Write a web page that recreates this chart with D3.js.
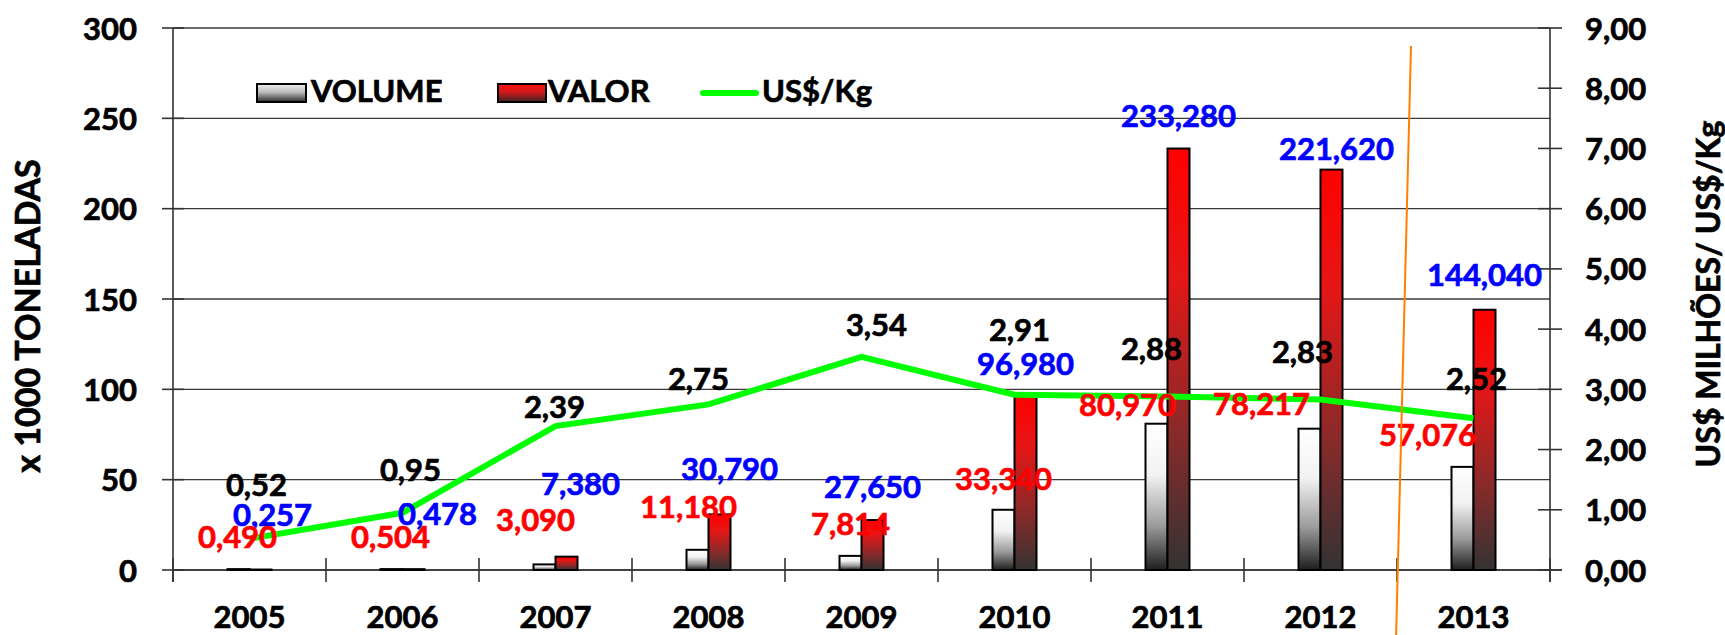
<!DOCTYPE html>
<html>
<head>
<meta charset="utf-8">
<script src="https://cdn.jsdelivr.net/npm/d3@7"></script>
<style>
  html, body { margin: 0; padding: 0; background: #fff; }
  svg { display: block; }
  text { font-family: Lato, "Open Sans", sans-serif; font-weight: bold; stroke-width: 0.7px; }
</style>
</head>
<body>
<svg id="chart" width="1725" height="635"></svg>
<script>
// ---------------- DATA ----------------
const years = ['2005', '2006', '2007', '2008', '2009', '2010', '2011', '2012', '2013'];
const volume = [0.490, 0.504, 3.090, 11.180, 7.814, 33.340, 80.970, 78.217, 57.076];   // x 1000 toneladas
const valor = [0.257, 0.478, 7.380, 30.790, 27.650, 96.980, 233.280, 221.620, 144.040]; // US$ milhões
const price = [0.52, 0.95, 2.39, 2.75, 3.54, 2.91, 2.88, 2.83, 2.52];                    // US$/Kg
const leftTicks = [0, 50, 100, 150, 200, 250, 300];
const rightTicks = [0, 1, 2, 3, 4, 5, 6, 7, 8, 9];
const seriesNames = ['VOLUME', 'VALOR', 'US$/Kg'];
const leftTitle = 'x 1000 TONELADAS';
const rightTitle = 'US$ MILHÕES/ US$/Kg';

// label offsets (layout only, px relative to their mark)
const priceLabelOffsets = [[7,-43],[8,-32],[-1,-8],[-10,-14],[15,-21],[5,-54],[-16,-37],[-18,-37],[3,-28]];
const valorLabelOffsets = [[23,-44],[35,-44],[25,-62],[21,-34],[11,-22],[11,-20],[11,-22],[16,-10],[11,-24]];
const volumeLabelOffsets = [[-12,-21],[-12,-21],[-20,-33],[-20,-32],[-11,-21],[-11,-20],[-40,-8],[-59,-14],[-46,-21]];

// ---------------- SETUP ----------------
const svg = d3.select('#chart');
const plot = { left: 173, right: 1550, top: 28, bottom: 570 };
const FS = 31;

const locale = d3.formatLocale({ decimal: ',', thousands: '.', grouping: [3], currency: ['', ''] });
const f3 = locale.format('.3f');
const f2 = locale.format('.2f');
const f0 = locale.format('d');

const x = d3.scaleBand().domain(years).range([plot.left, plot.right]).paddingInner(0).paddingOuter(0);
const bw = x.bandwidth();
const xs = d3.scaleBand().domain(['vol', 'val']).range([bw / 2 - 22, bw / 2 + 22]).padding(0);
const yL = d3.scaleLinear().domain([0, 300]).range([plot.bottom, plot.top]);
const yR = d3.scaleLinear().domain([0, 9]).range([plot.bottom, plot.top]);
const cx = d => x(d) + bw / 2;

// gradients
const defs = svg.append('defs');
function grad(id, stops) {
  const g = defs.append('linearGradient').attr('id', id)
    .attr('x1', 0).attr('y1', 0).attr('x2', 0).attr('y2', 1);
  stops.forEach(s => g.append('stop').attr('offset', s[0]).attr('stop-color', s[1]));
}
grad('gVol', [[0, '#ffffff'], [0.35, '#f2f2f2'], [0.7, '#9a9a9a'], [1, '#1e1e1e']]);
grad('gVal', [[0, '#ff0000'], [0.3, '#e51616'], [0.68, '#872a2a'], [1, '#333333']]);
grad('gVolLeg', [[0, '#eeeeee'], [0.45, '#bdbdbd'], [1, '#2a2a2a']]);
grad('gValLeg', [[0, '#ff1010'], [0.45, '#d01818'], [1, '#3a2424']]);

// gridlines
svg.append('g').selectAll('line').data(leftTicks).join('line')
  .attr('x1', plot.left).attr('x2', plot.right)
  .attr('y1', d => yL(d)).attr('y2', d => yL(d))
  .attr('stroke', '#3a3a3a').attr('stroke-width', 1.4);

// left axis
const gl = svg.append('g');
gl.append('line').attr('x1', plot.left).attr('x2', plot.left)
  .attr('y1', plot.top).attr('y2', plot.bottom + 12).attr('stroke', '#333').attr('stroke-width', 1.6);
gl.selectAll('line.t').data(leftTicks).join('line').attr('class', 't')
  .attr('x1', plot.left - 11).attr('x2', plot.left + 11)
  .attr('y1', d => yL(d)).attr('y2', d => yL(d)).attr('stroke', '#333').attr('stroke-width', 1.6);
gl.selectAll('text').data(leftTicks).join('text')
  .attr('x', plot.left - 36).attr('y', d => yL(d) + 11.5)
  .attr('text-anchor', 'end').attr('font-size', FS).attr('fill', '#000').attr('stroke', '#000').text(d => f0(d));

// right axis
const gr = svg.append('g');
gr.append('line').attr('x1', plot.right).attr('x2', plot.right)
  .attr('y1', plot.top).attr('y2', plot.bottom + 12).attr('stroke', '#333').attr('stroke-width', 1.6);
gr.selectAll('line.t').data(rightTicks).join('line').attr('class', 't')
  .attr('x1', plot.right - 12).attr('x2', plot.right + 12)
  .attr('y1', d => yR(d)).attr('y2', d => yR(d)).attr('stroke', '#333').attr('stroke-width', 1.6);
gr.selectAll('text').data(rightTicks).join('text')
  .attr('x', plot.right + 35).attr('y', d => yR(d) + 11.5)
  .attr('text-anchor', 'start').attr('font-size', FS).attr('fill', '#000').attr('stroke', '#000').text(d => f2(d));

// x axis line + category boundary ticks
svg.append('line').attr('x1', plot.left).attr('x2', plot.right + 12)
  .attr('y1', plot.bottom).attr('y2', plot.bottom).attr('stroke', '#333').attr('stroke-width', 1.6);
const bounds = years.map(d => x(d)).concat([plot.right]);
svg.append('g').selectAll('line').data(bounds).join('line')
  .attr('x1', d => d).attr('x2', d => d)
  .attr('y1', plot.bottom - 12).attr('y2', plot.bottom + 12)
  .attr('stroke', '#333').attr('stroke-width', 1.6);
svg.append('g').selectAll('text').data(years).join('text')
  .attr('x', d => cx(d)).attr('y', 628).attr('text-anchor', 'middle')
  .attr('font-size', FS).attr('fill', '#000').attr('stroke', '#000').text(d => d);

// axis titles
svg.append('text').attr('transform', 'translate(40,316) rotate(-90)')
  .attr('text-anchor', 'middle').attr('font-size', 34).attr('fill', '#000').attr('stroke', '#000').text(leftTitle);
svg.append('text').attr('transform', 'translate(1720,294) rotate(-90)')
  .attr('text-anchor', 'middle').attr('font-size', 32).attr('fill', '#000').attr('stroke', '#000').text(rightTitle);

// bars
const bars = svg.append('g');
bars.selectAll('rect.vol').data(years).join('rect').attr('class', 'vol')
  .attr('x', d => x(d) + xs('vol')).attr('width', xs.bandwidth())
  .attr('y', (d, i) => yL(volume[i])).attr('height', (d, i) => yL(0) - yL(volume[i]))
  .attr('fill', 'url(#gVol)').attr('stroke', '#000').attr('stroke-width', 2);
bars.selectAll('rect.val').data(years).join('rect').attr('class', 'val')
  .attr('x', d => x(d) + xs('val')).attr('width', xs.bandwidth())
  .attr('y', (d, i) => yL(valor[i])).attr('height', (d, i) => yL(0) - yL(valor[i]))
  .attr('fill', 'url(#gVal)').attr('stroke', '#000').attr('stroke-width', 2);

// price line
const line = d3.line().x((d, i) => cx(years[i])).y(d => yR(d));
svg.append('path').datum(price).attr('d', line)
  .attr('fill', 'none').attr('stroke', '#00ff00').attr('stroke-width', 6);

// labels
const lab = svg.append('g').attr('font-size', FS).attr('text-anchor', 'middle');
lab.selectAll('text.p').data(price).join('text').attr('class', 'p')
  .attr('x', (d, i) => cx(years[i]) + priceLabelOffsets[i][0])
  .attr('y', (d, i) => yR(d) + priceLabelOffsets[i][1])
  .attr('fill', '#000').attr('stroke', '#000').text(d => f2(d));
lab.selectAll('text.va').data(valor).join('text').attr('class', 'va')
  .attr('x', (d, i) => cx(years[i]) + valorLabelOffsets[i][0])
  .attr('y', (d, i) => yL(d) + valorLabelOffsets[i][1])
  .attr('fill', '#0000ff').attr('stroke', '#0000ff').text(d => f3(d));
lab.selectAll('text.vo').data(volume).join('text').attr('class', 'vo')
  .attr('x', (d, i) => cx(years[i]) + volumeLabelOffsets[i][0])
  .attr('y', (d, i) => yL(d) + volumeLabelOffsets[i][1])
  .attr('fill', '#ff0000').attr('stroke', '#ff0000').text(d => f3(d));

// legend
const leg = svg.append('g');
leg.append('rect').attr('x', 257).attr('y', 84).attr('width', 49).attr('height', 18)
  .attr('fill', 'url(#gVolLeg)').attr('stroke', '#000').attr('stroke-width', 2);
leg.append('text').attr('x', 311).attr('y', 102).attr('font-size', FS).attr('fill', '#000').attr('stroke', '#000').text(seriesNames[0]);
leg.append('rect').attr('x', 498).attr('y', 84).attr('width', 48).attr('height', 18)
  .attr('fill', 'url(#gValLeg)').attr('stroke', '#000').attr('stroke-width', 2);
leg.append('text').attr('x', 548).attr('y', 102).attr('font-size', FS).attr('fill', '#000').attr('stroke', '#000').text(seriesNames[1]);
leg.append('line').attr('x1', 703).attr('x2', 756).attr('y1', 93).attr('y2', 93)
  .attr('stroke', '#00ff00').attr('stroke-width', 6).attr('stroke-linecap', 'round');
leg.append('text').attr('x', 762).attr('y', 102).attr('font-size', FS).attr('fill', '#000').attr('stroke', '#000').text(seriesNames[2]);

// stray orange annotation stroke near the 2012/2013 boundary
svg.append('line')
  .attr('x1', x('2013') + 14).attr('y1', yL(290))
  .attr('x2', x('2013') - 1).attr('y2', 640)
  .attr('stroke', '#ff8000').attr('stroke-width', 2);
</script>
</body>
</html>
